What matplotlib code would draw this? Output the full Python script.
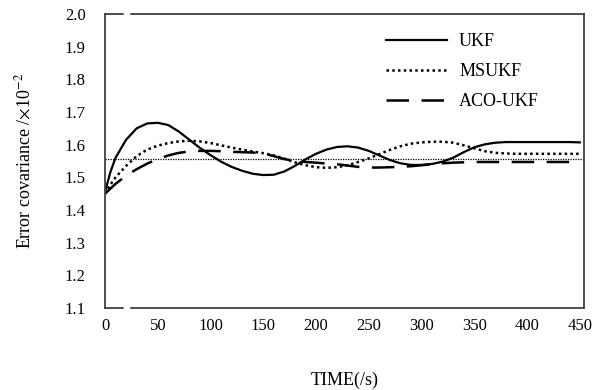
import matplotlib
matplotlib.use("Agg")
import matplotlib.pyplot as plt
import numpy as np

plt.rcParams['font.family'] = ['Liberation Serif', 'DejaVu Serif']
plt.rcParams['mathtext.fontset'] = 'stix'

time = [0, 5] + list(range(10, 451, 10))
ukf = [1.455, 1.515, 1.56, 1.615, 1.65, 1.665, 1.667, 1.66, 1.64, 1.615, 1.59,
       1.568, 1.548, 1.532, 1.52, 1.511, 1.507, 1.508, 1.518, 1.535, 1.555,
       1.572, 1.585, 1.593, 1.595, 1.591, 1.581, 1.567, 1.553, 1.543, 1.538,
       1.538, 1.541, 1.548, 1.56, 1.577, 1.592, 1.601, 1.606, 1.608, 1.608,
       1.608, 1.608, 1.608, 1.608, 1.608, 1.607]
msukf = [1.45, 1.477, 1.50, 1.535, 1.565, 1.585, 1.597, 1.605, 1.61, 1.612, 1.61,
         1.605, 1.598, 1.591, 1.585, 1.579, 1.574, 1.567, 1.557, 1.546, 1.537,
         1.531, 1.529, 1.531, 1.537, 1.547, 1.558, 1.571, 1.584, 1.595, 1.603,
         1.607, 1.609, 1.609, 1.606, 1.598, 1.589, 1.58, 1.575, 1.573, 1.572,
         1.572, 1.572, 1.572, 1.572, 1.572, 1.572]
aco_ukf = [1.45, 1.465, 1.48, 1.505, 1.525, 1.542, 1.556, 1.567, 1.575, 1.579, 1.581,
           1.581, 1.58, 1.578, 1.577, 1.576, 1.573, 1.565, 1.556, 1.55, 1.547,
           1.545, 1.542, 1.54, 1.536, 1.532, 1.53, 1.53, 1.531, 1.532, 1.534,
           1.537, 1.54, 1.543, 1.545, 1.546, 1.547, 1.547, 1.547, 1.547, 1.547,
           1.547, 1.547, 1.547, 1.547, 1.547, 1.547]
ref_level = 1.555

x_ticks = [0, 50, 100, 150, 200, 250, 300, 350, 400, 450]
y_ticks = [1.1, 1.2, 1.3, 1.4, 1.5, 1.6, 1.7, 1.8, 1.9, 2.0]

fig = plt.figure(figsize=(5.95, 3.9), dpi=100)
ax = fig.add_axes([105/595, 1-308/390, 479/595, 294/390])

ax.axhline(ref_level, color='black', lw=0.9, ls=(0, (1, 1)))
ax.plot(time, ukf, color='black', lw=1.6, label='UKF')
ax.plot(time, msukf, color='black', lw=1.8, ls=(0, (1, 1.3)), label='MSUKF')
ax.plot(time, aco_ukf, color='black', lw=1.8, ls=(0, (9, 5)), label='ACO-UKF')

ax.set_xlim(0, 454)
ax.set_ylim(1.1, 2.0)
ax.set_xticks(x_ticks)
ax.set_xticklabels([str(v) for v in x_ticks])
ax.set_yticks(y_ticks)
ax.set_yticklabels([f"{v:.1f}" for v in y_ticks])
ax.tick_params(axis='both', length=0, labelsize=12)
ax.tick_params(axis='y', pad=14)
ax.tick_params(axis='x', pad=7)
for s in ax.spines.values():
    s.set_color('#404040')
    s.set_linewidth(1.3)

# small gaps in top and bottom frame
for yv in (1.1, 2.0):
    ax.plot([18.5, 22], [yv, yv], color='white', lw=2.5, clip_on=False, zorder=5)

ax.set_ylabel(r'Error covariance /$\times$10$^{-2}$', fontsize=13, labelpad=22)
ax.set_xlabel('TIME(/s)', fontsize=13, labelpad=27)

leg = ax.legend(loc='upper right', frameon=False, fontsize=13, handlelength=3.4,
                bbox_to_anchor=(0.94, 0.99), labelspacing=0.72, handletextpad=0.65)

fig.savefig('out.png', dpi=100)
